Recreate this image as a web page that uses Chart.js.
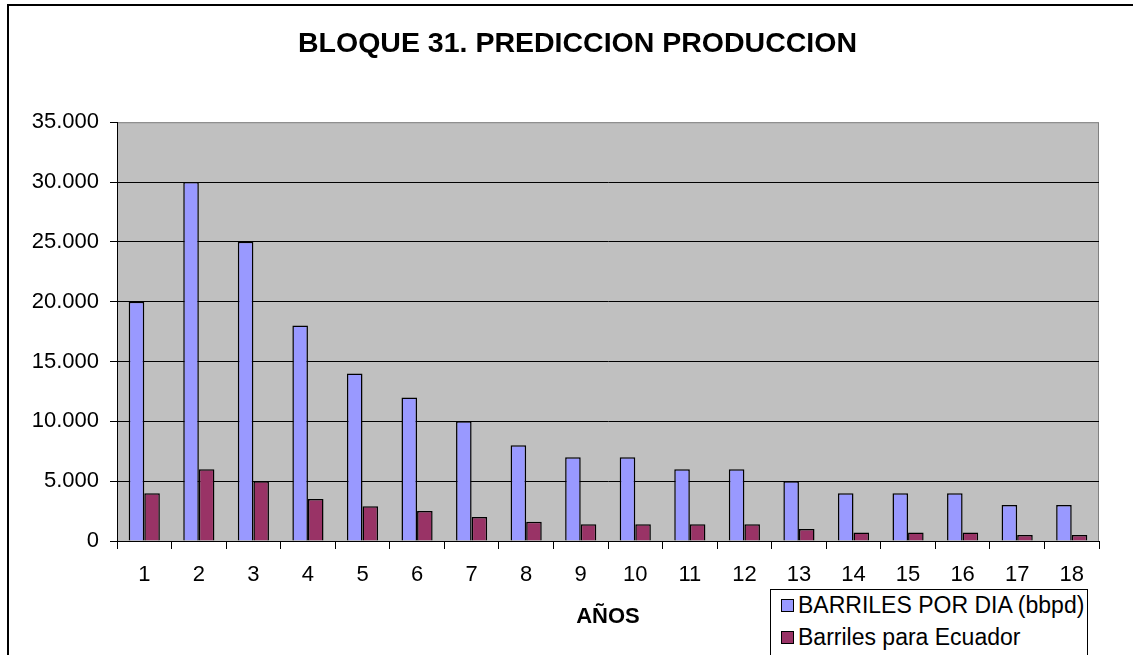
<!DOCTYPE html>
<html>
<head>
<meta charset="utf-8">
<script src="https://cdn.jsdelivr.net/npm/chart.js@4.4.1/dist/chart.umd.min.js"></script>
<style>
  html, body { margin: 0; padding: 0; background: #fff; overflow: hidden; }
  #wrap { position: relative; width: 1155px; height: 655px; }
  #legend {
    position: absolute; left: 770px; top: 589px; width: 318px; height: 80px;
    border: 1px solid #000; background: #fff; box-sizing: border-box;
    font: 23px "Liberation Sans", Arial, sans-serif; color: #000;
  }
  #legend .item { height: 32px; line-height: 30px; white-space: nowrap; padding-left: 10px; }
  #legend .sw {
    display: inline-block; width: 11px; height: 11px; border: 1px solid #000;
    margin-right: 4px; vertical-align: middle; position: relative; top: -1px;
  }
</style>
</head>
<body>
<div id="wrap">
  <canvas id="chart" width="1155" height="655"></canvas>
  <div id="legend"></div>
</div>
<script>
const years        = ['1','2','3','4','5','6','7','8','9','10','11','12','13','14','15','16','17','18'];
const barrilesDia  = [20000, 30000, 25000, 18000, 14000, 12000, 10000, 8000, 7000, 7000, 6000, 6000, 5000, 4000, 4000, 4000, 3000, 3000];
const paraEcuador  = [4000, 6000, 5000, 3500, 2900, 2500, 2000, 1600, 1400, 1400, 1400, 1400, 1000, 700, 700, 700, 500, 500];
const seriesNames  = ['BARRILES POR DIA (bbpd)', 'Barriles para Ecuador'];
const yTicks       = [0, 5000, 10000, 15000, 20000, 25000, 30000, 35000];

const FONT = '"Liberation Sans", Arial, sans-serif';

// thousands with a dot, like the Excel sheet
const fmt = v => String(v).replace(/\B(?=(\d{3})+(?!\d))/g, '.');

// grey plot area + outer frame
const backdrop = {
  id: 'backdrop',
  beforeDraw(chart) {
    const { ctx, chartArea: a } = chart;
    ctx.save();
    ctx.strokeStyle = '#000';
    ctx.lineWidth = 2;
    ctx.beginPath();
    ctx.moveTo(8, chart.height + 10);
    ctx.lineTo(8, 5);
    ctx.lineTo(chart.width + 10, 5);
    ctx.stroke();
    ctx.fillStyle = '#C0C0C0';
    ctx.fillRect(a.left, a.top, a.right - a.left, a.bottom - a.top);
    ctx.strokeStyle = '#808080';
    ctx.lineWidth = 1;
    ctx.strokeRect(a.left + 0.5, a.top + 0.5, a.right - a.left - 1, a.bottom - a.top);
    ctx.restore();
  }
};

const chart = new Chart(document.getElementById('chart'), {
  type: 'bar',
  data: {
    labels: years,
    datasets: [
      { label: seriesNames[0], data: barrilesDia, backgroundColor: '#9999FF', borderColor: '#000', borderWidth: 1.5 },
      { label: seriesNames[1], data: paraEcuador, backgroundColor: '#993366', borderColor: '#000', borderWidth: 1.5 },
    ],
  },
  options: {
    responsive: false,
    animation: false,
    datasets: { bar: { categoryPercentage: 0.571, barPercentage: 1 } },
    layout: { padding: 0 },
    plugins: {
      legend: { display: false },
      tooltip: { enabled: false },
      title: {
        display: true,
        text: 'BLOQUE 31. PREDICCION PRODUCCION',
        color: '#000',
        font: { family: FONT, size: 28.5, weight: 'bold' },
        padding: { top: 27, bottom: 61 },
      },
    },
    scales: {
      x: {
        afterFit: s => { s.height = 114; },
        grid: { display: true, drawOnChartArea: false, drawTicks: true, tickLength: 8, color: '#000', offset: true },
        border: { color: '#000', width: 1 },
        ticks: { color: '#000', font: { family: FONT, size: 22 }, padding: 13, maxRotation: 0 },
        title: {
          display: true, text: 'AÑOS', color: '#000',
          font: { family: FONT, size: 22, weight: 'bold' },
          padding: { top: 0, bottom: 25 },
        },
      },
      y: {
        min: 0, max: 35000,
        afterFit: s => { s.width = 117; },
        afterBuildTicks: s => { s.ticks = yTicks.map(v => ({ value: v })); },
        grid: {
          color: c => (c.tick && c.tick.value === 35000 ? 'rgba(0,0,0,0)' : '#000'),
          tickColor: '#000', tickLength: 7, lineWidth: 1,
        },
        border: { color: '#000', width: 1 },
        ticks: { color: '#000', font: { family: FONT, size: 22 }, padding: 11, callback: v => fmt(v) },
      },
      // empty right-hand strip so the plot stops at the same place as the original
      yRight: {
        position: 'right',
        afterFit: s => { s.width = 56; },
        grid: { display: false },
        border: { display: false },
        ticks: { display: false },
      },
    },
  },
  plugins: [backdrop],
});

// legend box built from the datasets
const legend = document.getElementById('legend');
chart.data.datasets.forEach(ds => {
  const row = document.createElement('div');
  row.className = 'item';
  row.innerHTML = `<span class="sw" style="background:${ds.backgroundColor}"></span>${ds.label}`;
  legend.appendChild(row);
});
</script>
</body>
</html>
